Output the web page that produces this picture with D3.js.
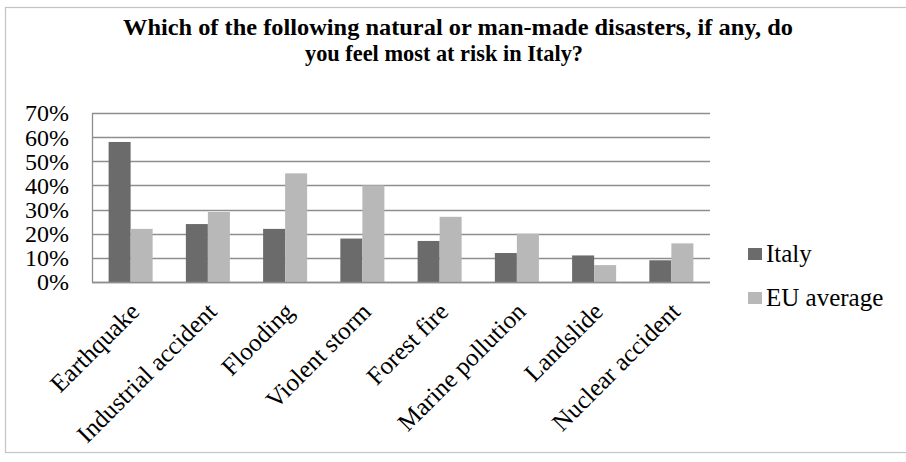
<!DOCTYPE html>
<html>
<head>
<meta charset="utf-8">
<script src="https://cdn.jsdelivr.net/npm/d3@7"></script>
<style>
  html, body { margin: 0; padding: 0; background: #fff; }
  svg { display: block; }
  svg text { font-family: "Liberation Serif", "Tinos", "Times New Roman", "DejaVu Serif", serif !important; fill: #000; }
</style>
</head>
<body>
<svg id="chart" width="906" height="462"></svg>
<script>
// Survey results: share of respondents naming each disaster as the top risk
const categories = ["Earthquake", "Industrial accident", "Flooding", "Violent storm",
                    "Forest fire", "Marine pollution", "Landslide", "Nuclear accident"];
const seriesNames = ["Italy", "EU average"];
const italyValues = [58, 24, 22, 18, 17, 12, 11, 9];
const euValues = [22, 29, 45, 40, 27, 20, 7, 16];
const yTicks = [0, 10, 20, 30, 40, 50, 60, 70];
const titleLines = ["Which of the following natural or man-made disasters, if any, do",
                    "you feel most at risk in Italy?"];

const colors = { "Italy": "#6b6b6b", "EU average": "#b8b8b8" };

const svg = d3.select("#chart");
const plot = { left: 92, right: 710, top: 113, bottom: 282 };

// outer frame of the chart area
svg.append("rect")
  .attr("x", 5.5).attr("y", 7.5)
  .attr("width", 1000).attr("height", 445)
  .attr("fill", "#fff").attr("stroke", "#c4c4c4").attr("stroke-width", 1.2);

// title
const titleInfo = [
  { x: 458, y: 35, len: 670 },
  { x: 444, y: 61, len: 278 }
];
svg.selectAll("text.title")
  .data(titleLines)
  .join("text")
  .attr("class", "title")
  .attr("x", (d, i) => titleInfo[i].x)
  .attr("y", (d, i) => titleInfo[i].y)
  .attr("text-anchor", "middle")
  .attr("font-size", 23)
  .attr("font-weight", "bold")
  .attr("textLength", (d, i) => titleInfo[i].len)
  .attr("lengthAdjust", "spacingAndGlyphs")
  .text(d => d);

// scales
const x0 = d3.scaleBand()
  .domain(categories)
  .range([plot.left, plot.right])
  .paddingInner(0.43)
  .paddingOuter(0.215);
const x1 = d3.scaleBand()
  .domain(seriesNames)
  .range([0, x0.bandwidth()]);
const y = d3.scaleLinear()
  .domain([0, 70])
  .range([plot.bottom, plot.top]);

// gridlines
svg.append("g")
  .selectAll("line")
  .data(yTicks)
  .join("line")
  .attr("x1", plot.left).attr("x2", plot.right)
  .attr("y1", d => Math.round(y(d)) + 0.5)
  .attr("y2", d => Math.round(y(d)) + 0.5)
  .attr("stroke", "#8e8e8e").attr("stroke-width", 1.3);

// vertical axis line
svg.append("line")
  .attr("x1", plot.left + 0.5).attr("x2", plot.left + 0.5)
  .attr("y1", Math.round(y(70)) + 0.5).attr("y2", Math.round(y(0)) + 0.5)
  .attr("stroke", "#8e8e8e").attr("stroke-width", 1.3);

// y tick labels
const yAxis = d3.axisLeft(y).tickValues(yTicks).tickFormat(d => d + "%").tickSize(0).tickPadding(0);
const yg = svg.append("g").attr("transform", "translate(69,0)").call(yAxis);
yg.attr("font-family", null).attr("font-size", null);
yg.select(".domain").remove();
yg.selectAll("text")
  .attr("font-size", 24)
  .attr("fill", "#000")
  .attr("dy", "0.33em");

// bars
const rows = categories.map((c, i) => ({
  category: c,
  values: [ { series: "Italy", value: italyValues[i] },
            { series: "EU average", value: euValues[i] } ]
}));
svg.append("g")
  .selectAll("g")
  .data(rows)
  .join("g")
  .attr("transform", d => `translate(${x0(d.category)},0)`)
  .selectAll("rect")
  .data(d => d.values)
  .join("rect")
  .attr("x", d => x1(d.series))
  .attr("width", x1.bandwidth())
  .attr("y", d => y(d.value))
  .attr("height", d => y(0) - y(d.value))
  .attr("fill", d => colors[d.series]);

// bottom axis line over bars
svg.append("line")
  .attr("x1", plot.left).attr("x2", plot.right)
  .attr("y1", Math.round(y(0)) + 0.5).attr("y2", Math.round(y(0)) + 0.5)
  .attr("stroke", "#8e8e8e").attr("stroke-width", 1.3);

// category labels, rotated
const xAxis = d3.axisBottom(x0).tickSize(0).tickPadding(0);
const xg = svg.append("g").attr("transform", `translate(0,${plot.bottom})`).call(xAxis);
xg.attr("font-family", null).attr("font-size", null);
xg.select(".domain").remove();
xg.selectAll(".tick text")
  .attr("font-size", 25)
  .attr("fill", "#000")
  .attr("text-anchor", "end")
  .attr("x", 0).attr("y", 0)
  .attr("dy", "0.35em")
  .attr("transform", "translate(4,25) rotate(-45)");

// legend
const legend = svg.append("g")
  .selectAll("g")
  .data(seriesNames)
  .join("g")
  .attr("transform", (d, i) => `translate(748,${248 + i * 44})`);
legend.append("rect")
  .attr("width", 14).attr("height", 12)
  .attr("fill", d => colors[d]);
legend.append("text")
  .attr("x", 18).attr("y", 13.5)
  .attr("font-size", 25)
  .text(d => d);
</script>
</body>
</html>
